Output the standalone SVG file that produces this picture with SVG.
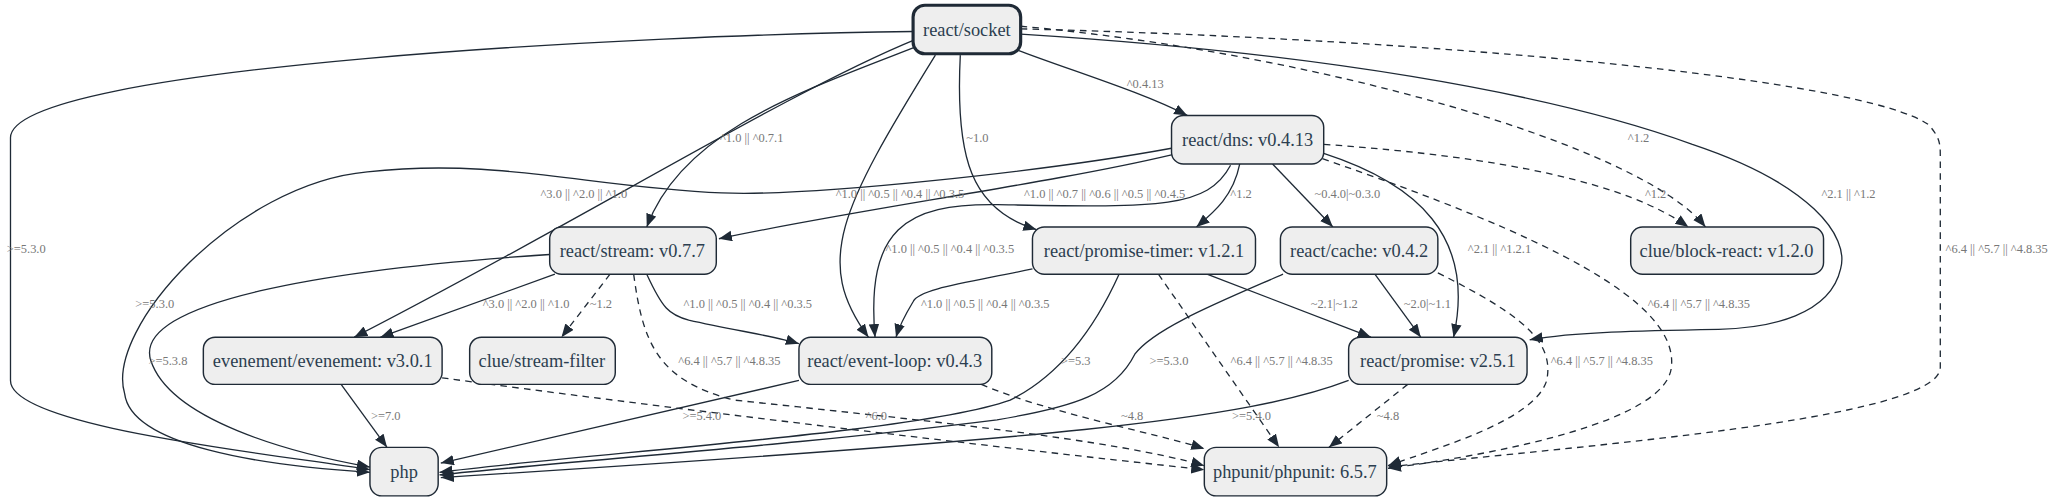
<svg xmlns="http://www.w3.org/2000/svg" width="2057" height="501" viewBox="0 0 2057 501">
<style>
.n rect{fill:#eeeeee;stroke:#1f2a36;stroke-width:1.1}
.n text{font-family:"Liberation Serif",serif;font-size:14px;fill:#2c3e50;text-anchor:middle;dominant-baseline:central}
#socket rect{stroke-width:2.4}
.e path{fill:none;stroke:#1f2a36;stroke-width:1;marker-end:url(#ah)}
.e path.d{stroke-dasharray:5,4}
.l text{font-family:"Liberation Serif",serif;font-size:9.5px;fill:#777;text-anchor:middle}
</style>
<defs><marker id="ah" markerUnits="userSpaceOnUse" markerWidth="11" markerHeight="9" refX="10" refY="4" orient="auto"><path d="M0,0 L10,4 L0,8 z" fill="#1f2a36"/></marker></defs>
<rect width="2057" height="501" fill="#fff"/>
<g transform="scale(1.3119)">
<g id="connectors" class="e">
<path d="M696,24 C500,26 8,50 8,105 L8,290 C8,325 200,345 282,358"/>
<path d="M700,35 C610,70 520,100 493,173"/>
<path d="M698,30 C600,70 440,170 270,257"/>
<path d="M713,42 C640,160 620,200 662,257"/>
<path d="M732,42 C728,120 740,160 790,175"/>
<path d="M775,38 C820,55 870,70 905,88"/>
<path class="d" d="M778,20 C1000,40 1250,110 1300,173"/>
<path d="M778,26 C1000,40 1180,70 1290,110 C1380,140 1410,180 1403,205 C1395,240 1350,250 1310,251 C1250,252 1200,253 1166,259"/>
<path class="d" d="M778,22 C1100,30 1420,60 1470,95 C1479,105 1479,110 1479,120 L1479,280 C1479,320 1200,340 1058,356"/>
<path d="M893,113 C800,130 620,150 550,147 C450,143 380,120 280,131 C180,140 80,250 95,300 C100,340 200,355 282,360"/>
<path d="M893,118 C800,140 650,160 548,182"/>
<path d="M938,126 C920,160 880,158 760,156 C690,155 660,175 667,257"/>
<path d="M945,125 C940,150 925,162 912,173"/>
<path d="M970,125 L1016,173"/>
<path d="M1009,117 C1080,140 1125,180 1108,257"/>
<path class="d" d="M1009,110 C1150,120 1240,140 1287,173"/>
<path class="d" d="M1008,121 C1180,180 1280,230 1274,280 C1270,320 1150,345 1058,357"/>
<path d="M419,194 C250,205 100,230 115,275 C130,320 220,345 282,356"/>
<path d="M423,209 L290,257"/>
<path class="d" d="M465,209 L428,257"/>
<path d="M493,209 C505,235 510,240 525,244 C560,252 590,256 609,262"/>
<path class="d" d="M483,209 C490,260 500,290 560,305 C700,320 850,335 918,355"/>
<path d="M787,205 C740,215 700,220 696,230 C690,240 685,250 683,257"/>
<path d="M853,209 C830,260 800,290 770,305 C700,330 450,345 335,360"/>
<path d="M920,209 L1045,257"/>
<path class="d" d="M883,209 L975,341"/>
<path d="M978,209 C930,230 880,250 865,270 C850,300 820,310 760,320 C600,340 450,350 335,362"/>
<path d="M1048,209 L1083,257"/>
<path class="d" d="M1096,208 C1160,240 1185,260 1179,290 C1170,320 1100,340 1058,355"/>
<path d="M260,293 L295,341"/>
<path class="d" d="M337,288 C500,310 750,340 918,358"/>
<path d="M609,290 L336,353"/>
<path class="d" d="M748,293 C800,315 880,330 918,342"/>
<path d="M1028,290 C950,320 800,335 336,364"/>
<path class="d" d="M1073,293 L1013,341"/>
</g>
<g class="l">
<text x="573" y="108">^1.0 || ^0.7.1</text>
<text x="745" y="108">~1.0</text>
<text x="445" y="151">^3.0 || ^2.0 || ^1.0</text>
<text x="686" y="151">^1.0 || ^0.5 || ^0.4 || ^0.3.5</text>
<text x="842" y="151">^1.0 || ^0.7 || ^0.6 || ^0.5 || ^0.4.5</text>
<text x="946" y="151">^1.2</text>
<text x="1027" y="151">~0.4.0|~0.3.0</text>
<text x="873" y="67">^0.4.13</text>
<text x="1249" y="108">^1.2</text>
<text x="1262" y="151">^1.2</text>
<text x="1409" y="151">^2.1 || ^1.2</text>
<text x="1522" y="193">^6.4 || ^5.7 || ^4.8.35</text>
<text x="1143" y="193">^2.1 || ^1.2.1</text>
<text x="1295" y="235">^6.4 || ^5.7 || ^4.8.35</text>
<text x="1017" y="235">~2.1|~1.2</text>
<text x="1088" y="235">~2.0|~1.1</text>
<text x="1221" y="278">^6.4 || ^5.7 || ^4.8.35</text>
<text x="820" y="278">&gt;=5.3</text>
<text x="891" y="278">&gt;=5.3.0</text>
<text x="977" y="278">^6.4 || ^5.7 || ^4.8.35</text>
<text x="863" y="320">~4.8</text>
<text x="954" y="320">&gt;=5.4.0</text>
<text x="1058" y="320">~4.8</text>
<text x="20" y="193">&gt;=5.3.0</text>
<text x="724" y="193">^1.0 || ^0.5 || ^0.4 || ^0.3.5</text>
<text x="118" y="235">&gt;=5.3.0</text>
<text x="401" y="235">^3.0 || ^2.0 || ^1.0</text>
<text x="458" y="235">~1.2</text>
<text x="570" y="235">^1.0 || ^0.5 || ^0.4 || ^0.3.5</text>
<text x="751" y="235">^1.0 || ^0.5 || ^0.4 || ^0.3.5</text>
<text x="128" y="278">&gt;=5.3.8</text>
<text x="556" y="278">^6.4 || ^5.7 || ^4.8.35</text>
<text x="294" y="320">&gt;=7.0</text>
<text x="535" y="320">&gt;=5.4.0</text>
<text x="668" y="320">^6.0</text>
</g>
<g id="socket" class="n"><rect x="696" y="4" width="82" height="37" rx="9"/><text x="737" y="23">react/socket</text></g>
<g id="dns" class="n"><rect x="893" y="88" width="116" height="37" rx="9"/><text x="951" y="107">react/dns: v0.4.13</text></g>
<g id="stream" class="n"><rect x="419" y="173" width="127" height="36" rx="9"/><text x="482" y="191">react/stream: v0.7.7</text></g>
<g id="promise-timer" class="n"><rect x="787" y="173" width="170" height="36" rx="9"/><text x="872" y="191">react/promise-timer: v1.2.1</text></g>
<g id="cache" class="n"><rect x="976" y="173" width="120" height="36" rx="9"/><text x="1036" y="191">react/cache: v0.4.2</text></g>
<g id="block-react" class="n"><rect x="1243" y="173" width="147" height="36" rx="9"/><text x="1316" y="191">clue/block-react: v1.2.0</text></g>
<g id="evenement" class="n"><rect x="155" y="257" width="182" height="36" rx="9"/><text x="246" y="275">evenement/evenement: v3.0.1</text></g>
<g id="stream-filter" class="n"><rect x="358" y="257" width="111" height="36" rx="9"/><text x="413" y="275">clue/stream-filter</text></g>
<g id="event-loop" class="n"><rect x="609" y="257" width="147" height="36" rx="9"/><text x="682" y="275">react/event-loop: v0.4.3</text></g>
<g id="promise" class="n"><rect x="1028" y="257" width="136" height="36" rx="9"/><text x="1096" y="275">react/promise: v2.5.1</text></g>
<g id="php" class="n"><rect x="282" y="341" width="52" height="37" rx="9"/><text x="308" y="360">php</text></g>
<g id="phpunit" class="n"><rect x="918" y="341" width="139" height="37" rx="9"/><text x="987" y="360">phpunit/phpunit: 6.5.7</text></g>
</g>
</svg>
